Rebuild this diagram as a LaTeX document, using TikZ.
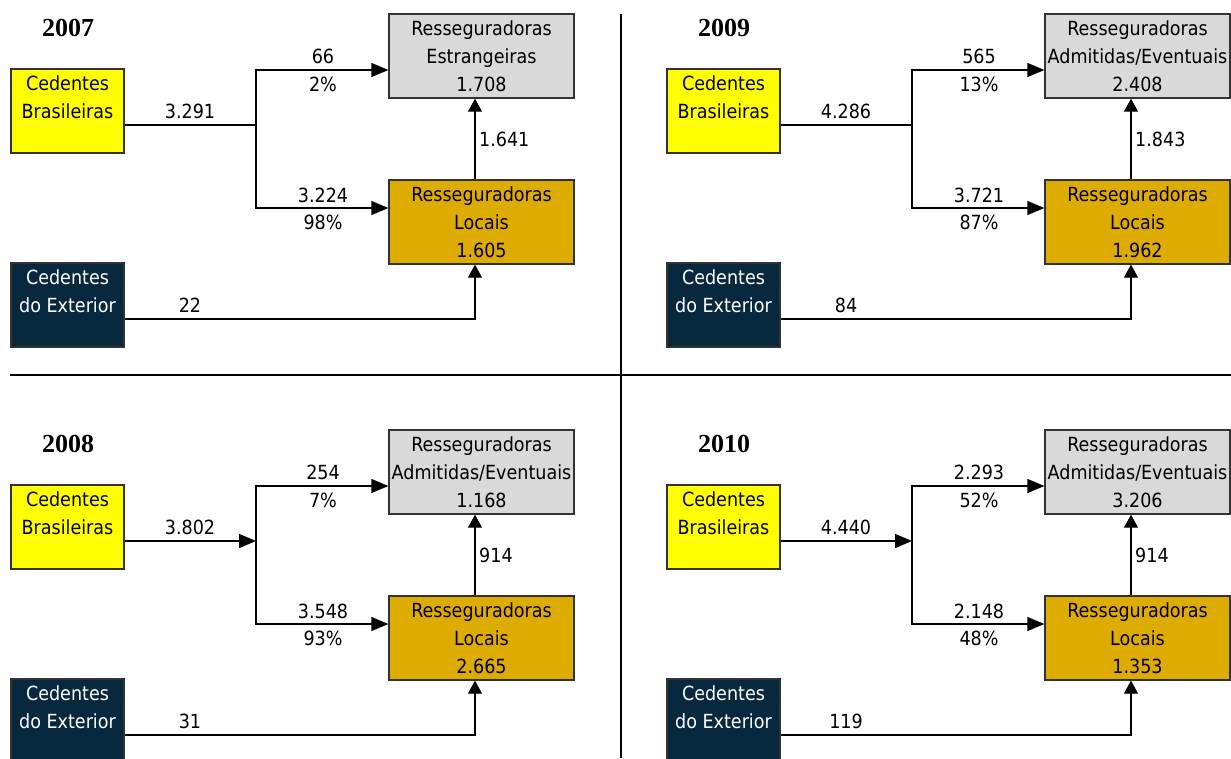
\documentclass[tikz,border=0pt]{standalone}
\usepackage{fontspec}
\newfontfamily\tahfont{DejaVu Sans Condensed}
\newfontfamily\yrfont{Liberation Serif}
\usetikzlibrary{arrows.meta}
\newcommand\bst{\rule[-6.4pt]{0pt}{28pt}}
\definecolor{cbyellow}{RGB}{255,255,0}
\definecolor{regray}{RGB}{217,217,217}
\definecolor{rlgold}{RGB}{222,172,0}
\definecolor{cenavy}{RGB}{8,40,62}
\definecolor{edgegray}{RGB}{50,50,50}
\tikzset{
 box/.style={draw=edgegray, line width=1.3pt, minimum width=113pt, minimum height=84pt, inner sep=0pt, align=center, font=\tahfont\fontsize{19.5}{28}\selectfont},
 cbbox/.style={box, fill=cbyellow},
 cebox/.style={box, fill=cenavy, text=white},
 rebox/.style={box, fill=regray, minimum width=185pt},
 rlbox/.style={box, fill=rlgold, minimum width=185pt},
 lab/.style={font=\tahfont\fontsize{19.5}{22}\selectfont, inner sep=0pt},
 vlab/.style={lab, anchor=west},
 yr/.style={font=\yrfont\bfseries\fontsize{26}{30}\selectfont, inner sep=0pt},
 flow/.style={line width=1.3pt, draw=black},
 rarr/.style={flow, -{Triangle[length=17pt,width=14pt]}},
 barr/.style={flow, {Triangle[length=17pt,width=14pt]}-{Triangle[length=17pt,width=14pt]}},
 uarr/.style={flow, -{Triangle[length=13pt,width=14pt]}},
 sep/.style={line width=1.2pt, draw=black},
}
\begin{document}
\begin{tikzpicture}[x=1pt,y=-1pt]
\useasboundingbox (0,0) rectangle (1231,758);
\fill[white] (0,0) rectangle (1231,758);
% separators
\draw[sep] (10,375) -- (1231,375);
\draw[sep] (621,14) -- (621,758);

% ---------- 2007 ----------
\begin{scope}[shift={(0,0)}]
\node[yr] (yr7) at (68,28) {2007};
\node[cbbox] (cb7) at (67.5,111) {\bst Cedentes\\\bst Brasileiras\\\bst};
\node[cebox] (ce7) at (67.5,305) {\bst Cedentes\\\bst do Exterior\\\bst};
\node[rebox] (re7) at (481.5,56) {\bst Resseguradoras\\\bst Estrangeiras\\\bst 1.708};
\node[rlbox] (rl7) at (481.5,222) {\bst Resseguradoras\\\bst Locais\\\bst 1.605};
\coordinate (j7) at (256,125);
\coordinate (jt7) at (256,70);
\coordinate (jb7) at (256,208);
\coordinate (v7) at (475,319);
\draw[flow] (cb7.east |- j7) -- (j7);
\draw[barr] (jt7 -| re7.west) -- (jt7) -- (jb7) -- (jb7 -| rl7.west);
\draw[uarr] (v7 |- rl7.north) -- (v7 |- re7.south);
\draw[uarr] (ce7.east |- v7) -- (v7) -- (v7 |- rl7.south);
\node[lab] (a7) at (190,111) {3.291};
\node[lab] (b7) at (323,56) {66};
\node[lab] (c7) at (323,84) {2\%};
\node[lab] (d7) at (323,195) {3.224};
\node[lab] (e7) at (323,222) {98\%};
\node[vlab] (f7) at (479,139) {1.641};
\node[lab] (g7) at (190,305) {22};
\end{scope}

% ---------- 2009 ----------
\begin{scope}[shift={(656,0)}]
\node[yr] (yr9) at (68,28) {2009};
\node[cbbox] (cb9) at (67.5,111) {\bst Cedentes\\\bst Brasileiras\\\bst};
\node[cebox] (ce9) at (67.5,305) {\bst Cedentes\\\bst do Exterior\\\bst};
\node[rebox] (re9) at (481.5,56) {\bst Resseguradoras\\\bst Admitidas/Eventuais\\\bst 2.408};
\node[rlbox] (rl9) at (481.5,222) {\bst Resseguradoras\\\bst Locais\\\bst 1.962};
\coordinate (j9) at (256,125);
\coordinate (jt9) at (256,70);
\coordinate (jb9) at (256,208);
\coordinate (v9) at (475,319);
\draw[flow] (cb9.east |- j9) -- (j9);
\draw[barr] (jt9 -| re9.west) -- (jt9) -- (jb9) -- (jb9 -| rl9.west);
\draw[uarr] (v9 |- rl9.north) -- (v9 |- re9.south);
\draw[uarr] (ce9.east |- v9) -- (v9) -- (v9 |- rl9.south);
\node[lab] (a9) at (190,111) {4.286};
\node[lab] (b9) at (323,56) {565};
\node[lab] (c9) at (323,84) {13\%};
\node[lab] (d9) at (323,195) {3.721};
\node[lab] (e9) at (323,222) {87\%};
\node[vlab] (f9) at (479,139) {1.843};
\node[lab] (g9) at (190,305) {84};
\end{scope}

% ---------- 2008 ----------
\begin{scope}[shift={(0,416)}]
\node[yr] (yr8) at (68,28) {2008};
\node[cbbox] (cb8) at (67.5,111) {\bst Cedentes\\\bst Brasileiras\\\bst};
\node[cebox] (ce8) at (67.5,305) {\bst Cedentes\\\bst do Exterior\\\bst};
\node[rebox] (re8) at (481.5,56) {\bst Resseguradoras\\\bst Admitidas/Eventuais\\\bst 1.168};
\node[rlbox] (rl8) at (481.5,222) {\bst Resseguradoras\\\bst Locais\\\bst 2.665};
\coordinate (j8) at (256,125);
\coordinate (jt8) at (256,70);
\coordinate (jb8) at (256,208);
\coordinate (v8) at (475,319);
\draw[rarr] (cb8.east |- j8) -- (j8);
\draw[barr] (jt8 -| re8.west) -- (jt8) -- (jb8) -- (jb8 -| rl8.west);
\draw[uarr] (v8 |- rl8.north) -- (v8 |- re8.south);
\draw[uarr] (ce8.east |- v8) -- (v8) -- (v8 |- rl8.south);
\node[lab] (a8) at (190,111) {3.802};
\node[lab] (b8) at (323,56) {254};
\node[lab] (c8) at (323,84) {7\%};
\node[lab] (d8) at (323,195) {3.548};
\node[lab] (e8) at (323,222) {93\%};
\node[vlab] (f8) at (479,139) {914};
\node[lab] (g8) at (190,305) {31};
\end{scope}

% ---------- 2010 ----------
\begin{scope}[shift={(656,416)}]
\node[yr] (yr10) at (68,28) {2010};
\node[cbbox] (cb10) at (67.5,111) {\bst Cedentes\\\bst Brasileiras\\\bst};
\node[cebox] (ce10) at (67.5,305) {\bst Cedentes\\\bst do Exterior\\\bst};
\node[rebox] (re10) at (481.5,56) {\bst Resseguradoras\\\bst Admitidas/Eventuais\\\bst 3.206};
\node[rlbox] (rl10) at (481.5,222) {\bst Resseguradoras\\\bst Locais\\\bst 1.353};
\coordinate (j10) at (256,125);
\coordinate (jt10) at (256,70);
\coordinate (jb10) at (256,208);
\coordinate (v10) at (475,319);
\draw[rarr] (cb10.east |- j10) -- (j10);
\draw[barr] (jt10 -| re10.west) -- (jt10) -- (jb10) -- (jb10 -| rl10.west);
\draw[uarr] (v10 |- rl10.north) -- (v10 |- re10.south);
\draw[uarr] (ce10.east |- v10) -- (v10) -- (v10 |- rl10.south);
\node[lab] (a10) at (190,111) {4.440};
\node[lab] (b10) at (323,56) {2.293};
\node[lab] (c10) at (323,84) {52\%};
\node[lab] (d10) at (323,195) {2.148};
\node[lab] (e10) at (323,222) {48\%};
\node[vlab] (f10) at (479,139) {914};
\node[lab] (g10) at (190,305) {119};
\end{scope}
\end{tikzpicture}
\end{document}
